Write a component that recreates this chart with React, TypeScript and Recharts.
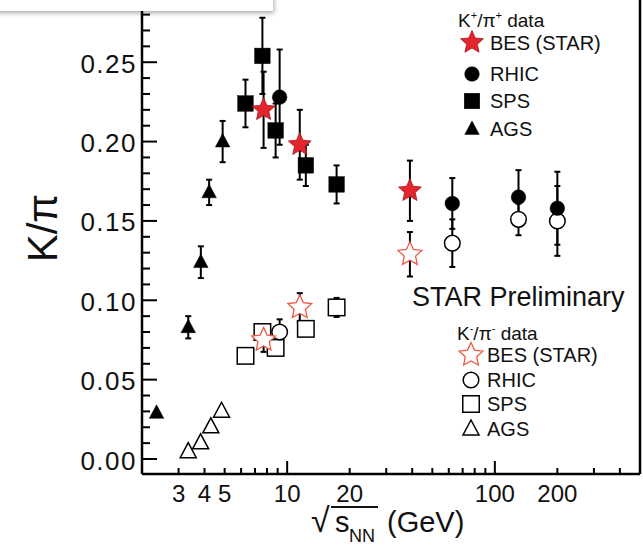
import React from "react";
import { ScatterChart, Scatter, XAxis, YAxis, ErrorBar, ReferenceLine } from "recharts";

const FONT = "'Liberation Sans', Arial, Helvetica, sans-serif";
const RED = "#e3262d";
const RED_DARK = "#a01a20";
const RED_OPEN = "#ec5a44";

// K+/pi+ (filled symbols)
const BES_POS_E = [7.7, 11.5, 39];
const BES_POS_V = [0.22, 0.198, 0.169];
const BES_POS_ERR = [0.024, 0.022, 0.019];

const RHIC_POS_E = [9.2, 62.4, 130, 200];
const RHIC_POS_V = [0.228, 0.161, 0.165, 0.158];
const RHIC_POS_ERR = [0.03, 0.016, 0.017, 0.023];

const SPS_POS_E = [6.3, 7.6, 8.8, 12.3, 17.3];
const SPS_POS_V = [0.224, 0.254, 0.207, 0.185, 0.173];
const SPS_POS_ERR = [0.015, 0.024, 0.017, 0.013, 0.012];

const AGS_POS_E = [2.35, 3.34, 3.84, 4.21, 4.89];
const AGS_POS_V = [0.029, 0.083, 0.124, 0.168, 0.2];
const AGS_POS_ERR = [0, 0.007, 0.01, 0.008, 0.013];

// K-/pi- (open symbols)
const BES_NEG_E = [7.7, 11.5, 39];
const BES_NEG_V = [0.075, 0.0955, 0.129];
const BES_NEG_ERR = [0.0075, 0.009, 0.014];

const RHIC_NEG_E = [9.2, 62.4, 130, 200];
const RHIC_NEG_V = [0.08, 0.136, 0.151, 0.15];
const RHIC_NEG_ERR = [0.008, 0.015, 0.01, 0.022];

const SPS_NEG_E = [6.3, 7.6, 8.8, 12.3, 17.3];
const SPS_NEG_V = [0.065, 0.08, 0.07, 0.082, 0.0955];
const SPS_NEG_ERR = [0, 0.004, 0.004, 0.004, 0.006];

const AGS_NEG_E = [3.34, 3.83, 4.29, 4.83];
const AGS_NEG_V = [0.0046, 0.0102, 0.0203, 0.0301];

// axes
const X_TICKS = [3, 4, 5, 6, 7, 8, 9, 10, 20, 30, 40, 50, 60, 70, 80, 90, 100, 200, 300, 400];
const X_LABELS = [3, 4, 5, 10, 20, 100, 200];
const X_MAJOR = [10, 100];
const Y_TICKS = [
  0, 0.01, 0.02, 0.03, 0.04, 0.05, 0.06, 0.07, 0.08, 0.09, 0.1, 0.11, 0.12, 0.13, 0.14,
  0.15, 0.16, 0.17, 0.18, 0.19, 0.2, 0.21, 0.22, 0.23, 0.24, 0.25, 0.26, 0.27, 0.28,
];

const LEGEND_NAMES = ["BES (STAR)", "RHIC", "SPS", "AGS"];

type Kind = "star" | "circle" | "square" | "triangle";

const rows = (xs: number[], ys: number[], es?: number[]) =>
  xs.map((x, i) => ({ x, y: ys[i], err: es ? es[i] : 0 }));

function starPoints(cx: number, cy: number, R: number, r: number) {
  const pts: string[] = [];
  for (let i = 0; i < 10; i++) {
    const rad = i % 2 === 0 ? R : r;
    const a = -Math.PI / 2 + (i * Math.PI) / 5;
    pts.push(`${cx + rad * Math.cos(a)},${cy + rad * Math.sin(a)}`);
  }
  return pts.join(" ");
}

function Marker({ kind, filled, cx, cy }: { kind: Kind; filled: boolean; cx: number; cy: number }) {
  if (kind === "star") {
    return filled ? (
      <polygon points={starPoints(cx, cy, 12, 5.6)} fill={RED} stroke={RED_DARK} strokeWidth={0.8} />
    ) : (
      <polygon points={starPoints(cx, cy, 12.5, 6)} fill="#fff" stroke={RED_OPEN} strokeWidth={1.3} />
    );
  }
  const fill = filled ? "#000" : "#fff";
  const sw = filled ? 0.5 : 1.5;
  if (kind === "circle") {
    const r = filled ? 7.3 : 7.8;
    return <circle cx={cx} cy={cy} r={r} fill={fill} stroke="#000" strokeWidth={sw} />;
  }
  if (kind === "square") {
    const s = filled ? 15.5 : 16.5;
    return <rect x={cx - s / 2} y={cy - s / 2} width={s} height={s} fill={fill} stroke="#000" strokeWidth={sw} />;
  }
  const w = filled ? 14.5 : 16;
  const h = filled ? 13.5 : 15;
  return (
    <polygon
      points={`${cx},${cy - h * 0.6} ${cx - w / 2},${cy + h * 0.4} ${cx + w / 2},${cy + h * 0.4}`}
      fill={fill}
      stroke="#000"
      strokeWidth={sw}
    />
  );
}

const shapeOf = (kind: Kind, filled: boolean) => (p: any) =>
  <Marker kind={kind} filled={filled} cx={p.cx} cy={p.cy} />;

function XTick(props: any) {
  const { x, y, payload } = props;
  const v = payload.value as number;
  const len = X_MAJOR.includes(v) ? 13 : 6;
  return (
    <g>
      <line x1={x} x2={x} y1={y} y2={y - len} stroke="#000" strokeWidth={2} />
      {X_LABELS.includes(v) && (
        <text x={x} y={y + 28} textAnchor="middle" fontSize={24} fontFamily={FONT} fill="#111">
          {v}
        </text>
      )}
    </g>
  );
}

function YTick(props: any) {
  const { x, y, payload } = props;
  const v = payload.value as number;
  const major = Math.round(v * 100) % 5 === 0;
  return (
    <g>
      <line x1={x} x2={x + (major ? 15 : 8)} y1={y} y2={y} stroke="#000" strokeWidth={2} />
      {major && (
        <text
          x={x - 5}
          y={y + 10.5}
          textAnchor="end"
          fontSize={26}
          letterSpacing={1.5}
          fontFamily={FONT}
          fill="#111"
        >
          {v.toFixed(2)}
        </text>
      )}
    </g>
  );
}

function LegendBlock({
  x, headY, sign, rowsY, filled, textX,
}: { x: number; headY: number; sign: string; rowsY: number[]; filled: boolean; textX: number }) {
  const kinds: Kind[] = ["star", "circle", "square", "triangle"];
  return (
    <g fontFamily={FONT} fill="#111">
      <text x={x} y={headY} fontSize={19}>
        K<tspan fontSize={11} dy={-8}>{sign}</tspan>
        <tspan dy={8}>/π</tspan>
        <tspan fontSize={11} dy={-8}>{sign}</tspan>
        <tspan dy={8}> data</tspan>
      </text>
      {kinds.map((k, i) => (
        <g key={k}>
          <Marker kind={k} filled={filled} cx={x + 14} cy={rowsY[i]} />
          <text x={textX} y={rowsY[i] + 7} fontSize={20}>
            {LEGEND_NAMES[i]}
          </text>
        </g>
      ))}
    </g>
  );
}

export default function App() {
  const openSeries: { kind: Kind; data: any[]; err: boolean }[] = [
    { kind: "triangle", data: rows(AGS_NEG_E, AGS_NEG_V), err: false },
    { kind: "square", data: rows(SPS_NEG_E, SPS_NEG_V, SPS_NEG_ERR), err: true },
    { kind: "circle", data: rows(RHIC_NEG_E, RHIC_NEG_V, RHIC_NEG_ERR), err: true },
    { kind: "star", data: rows(BES_NEG_E, BES_NEG_V, BES_NEG_ERR), err: true },
  ];
  const filledSeries: { kind: Kind; data: any[] }[] = [
    { kind: "triangle", data: rows(AGS_POS_E, AGS_POS_V, AGS_POS_ERR) },
    { kind: "square", data: rows(SPS_POS_E, SPS_POS_V, SPS_POS_ERR) },
    { kind: "circle", data: rows(RHIC_POS_E, RHIC_POS_V, RHIC_POS_ERR) },
    { kind: "star", data: rows(BES_POS_E, BES_POS_V, BES_POS_ERR) },
  ];

  return (
    <div style={{ position: "absolute", left: 0, top: 0, width: 643, height: 547, background: "#fff" }}>
      <ScatterChart width={643} height={547} margin={{ top: 0, right: 3, bottom: 0, left: 0 }}>
        <XAxis
          type="number"
          dataKey="x"
          scale="log"
          domain={[2, 500]}
          allowDataOverflow
          ticks={X_TICKS}
          interval={0}
          tickSize={0}
          tickMargin={0}
          tick={<XTick />}
          axisLine={{ stroke: "#000", strokeWidth: 2.5 }}
          height={73}
        />
        <YAxis
          type="number"
          dataKey="y"
          domain={[-0.00945, 0.2892]}
          allowDataOverflow
          ticks={Y_TICKS}
          interval={0}
          tickSize={0}
          tickMargin={0}
          tick={<YTick />}
          axisLine={{ stroke: "#000", strokeWidth: 2.5 }}
          width={142}
        />
        <ReferenceLine x={500} stroke="#000" strokeWidth={2.5} />
        {openSeries.map((s, i) => (
          <Scatter key={"o" + i} data={s.data} shape={shapeOf(s.kind, false)} isAnimationActive={false}>
            {s.err && <ErrorBar dataKey="err" direction="y" width={3} stroke="#000" strokeWidth={2} />}
          </Scatter>
        ))}
        {filledSeries.map((s, i) => (
          <Scatter key={"f" + i} data={s.data} shape={shapeOf(s.kind, true)} isAnimationActive={false}>
            <ErrorBar dataKey="err" direction="y" width={3} stroke="#000" strokeWidth={2} />
          </Scatter>
        ))}
      </ScatterChart>

      <svg
        width={643}
        height={547}
        style={{ position: "absolute", left: 0, top: 0, pointerEvents: "none" }}
      >
        <defs>
          <filter id="boxShadow" x="-10%" y="-50%" width="120%" height="250%">
            <feDropShadow dx={1} dy={2} stdDeviation={2.5} floodColor="#000" floodOpacity={0.35} />
          </filter>
        </defs>
        <rect x={-20} y={-20} width={293} height={31} fill="#fff" filter="url(#boxShadow)" />

        <text transform="translate(57,228) rotate(-90)" textAnchor="middle" fontSize={42} fontFamily={FONT} fill="#111">
          K/π
        </text>

        <g fontFamily={FONT} fill="#111">
          <text x={311} y={532} fontSize={34}>√</text>
          <line x1={331} x2={378} y1={507} y2={507} stroke="#111" strokeWidth={1.8} />
          <text x={335} y={532} fontSize={29}>s</text>
          <text x={349} y={542} fontSize={18}>NN</text>
          <text x={387} y={532} fontSize={29}>(GeV)</text>
        </g>

        <LegendBlock x={458} headY={27} sign="+" rowsY={[42.5, 74, 101, 129]} filled textX={490} />
        <text x={412} y={306} fontSize={27} fontFamily={FONT} fill="#111">
          STAR Preliminary
        </text>
        <LegendBlock x={457} headY={340} sign="-" rowsY={[355, 380, 404, 429]} filled={false} textX={487} />
      </svg>
    </div>
  );
}
